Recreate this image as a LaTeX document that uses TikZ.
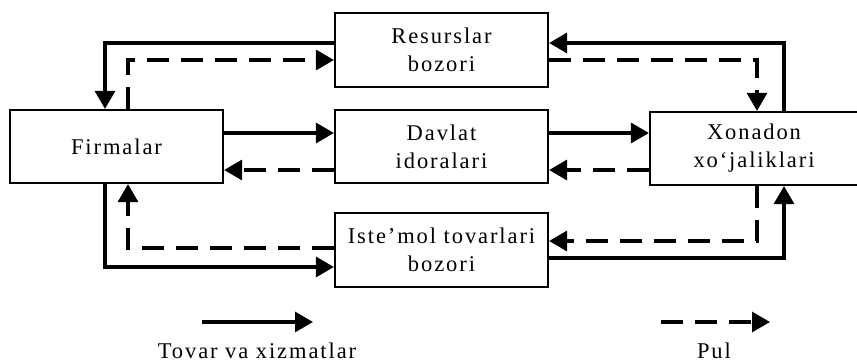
\documentclass[tikz,border=0pt]{standalone}
\usepackage{fontspec}
\setmainfont{Liberation Serif}[LetterSpace=8.5]
\usepackage{tikz}
\usetikzlibrary{
  arrows.meta,
  positioning,
  calc
}

\begin{document}
\begin{tikzpicture}[
  x=1pt, y=-1pt,
  box/.style={draw=black, line width=2.2pt, fill=white,
              minimum width=213pt, minimum height=73pt, inner sep=0pt,
              font=\fontsize{22.5}{28}\selectfont, align=center},
  goods/.style={-{Triangle[length=18pt,width=20pt]}, line width=3.2pt},
  money/.style={-{Triangle[length=18pt,width=20pt]}, line width=3.2pt,
                dash pattern=on 22pt off 12pt},
  lbl/.style={font=\fontsize{22.5}{28}\selectfont, inner sep=0pt}
]
  \useasboundingbox (0,0) rectangle (857,363);

  \node[box]                     (firm)   at (116.5,146.5) {Firmalar};
  \node[box, minimum height=74pt] (res)   at (441.5,50)    {Resurslar\\bozori};
  \node[box]                     (davlat) at (441.5,146.5) {Davlat\\idoralari};
  \node[box, minimum height=74pt] (ist)   at (441.5,250)   {Iste’mol tovarlari\\bozori};
  \node[box, minimum width=208pt] (xon)   at (754,148.5)   {Xonadon\\xo‘jaliklari};

  % top loop
  \draw[goods] ([yshift=7pt]res.west)  -| ([xshift=-11.5pt]firm.north);
  \draw[money] ([xshift=11.5pt]firm.north) |- ([yshift=-10pt]res.west);
  \draw[goods] ([xshift=30pt]xon.north) |- ([yshift=7pt]res.east);
  \draw[money] ([yshift=-10pt]res.east) -| ([xshift=3pt]xon.north);

  % middle
  \draw[goods] ([yshift=13.5pt]firm.east)    -- ([yshift=13.5pt]davlat.west);
  \draw[money] ([yshift=-23.5pt]davlat.west) -- ([yshift=-23.5pt]firm.east);
  \draw[goods] ([yshift=13.5pt]davlat.east)  -- ([yshift=15.5pt]xon.west);
  \draw[money] ([yshift=-21.5pt]xon.west)    -- ([yshift=-23.5pt]davlat.east);

  % bottom loop
  \draw[goods] ([xshift=-11.5pt]firm.south) |- ([yshift=-17pt]ist.west);
  \draw[money] ([yshift=2pt]ist.west) -| ([xshift=11.5pt]firm.south);
  \draw[money] ([xshift=3pt]xon.south) |- ([yshift=9pt]ist.east);
  \draw[goods] ([yshift=-8pt]ist.east) -| ([xshift=30pt]xon.south);

  % legend
  \coordinate (g1) at (202,322);
  \coordinate (g2) at (313,322);
  \coordinate (p1) at (661,322);
  \coordinate (p2) at (770,322);
  \draw[goods] (g1) -- (g2);
  \draw[money] (p1) -- (p2);
  \node[lbl, anchor=base] (glbl) at (257,359) {Tovar va xizmatlar};
  \node[lbl, anchor=base] (plbl) at (714,359) {Pul};
\end{tikzpicture}
\end{document}
